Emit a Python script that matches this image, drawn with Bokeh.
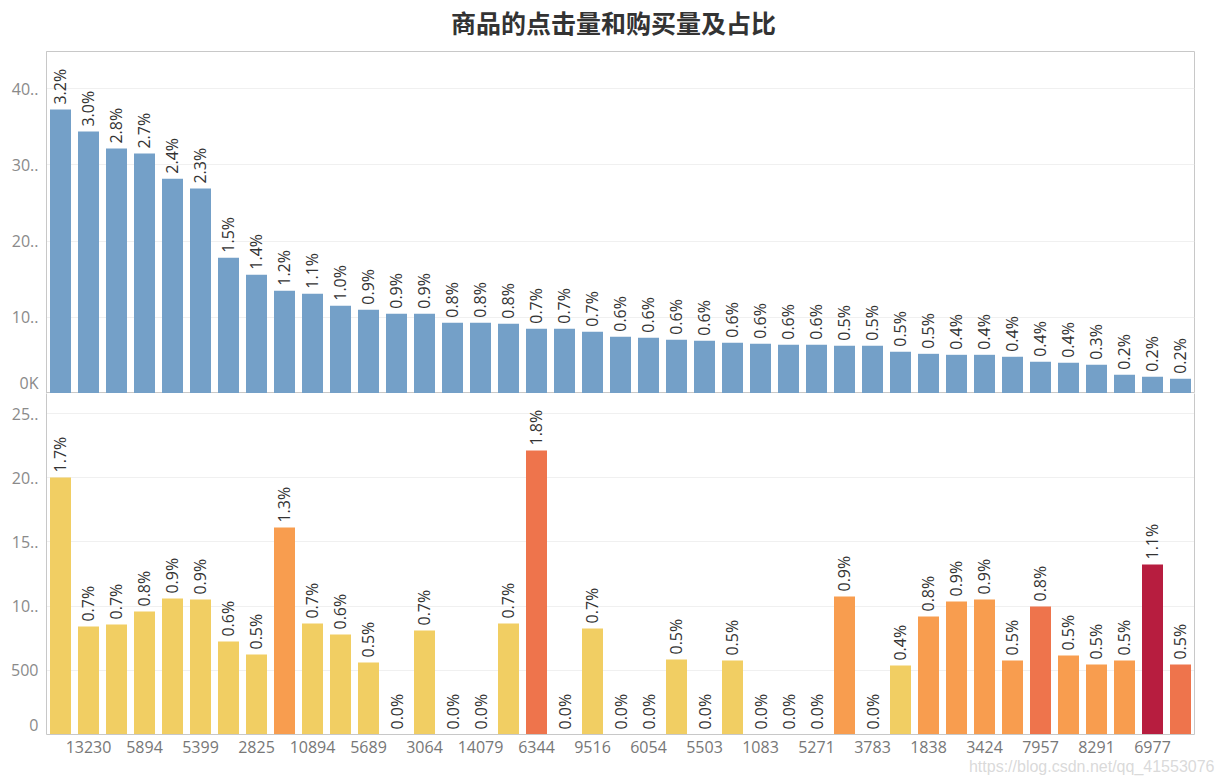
import numpy as np
from bokeh.plotting import figure
from bokeh.models import (ColumnDataSource, Range1d, FixedTicker, LabelSet, Title,
                          LinearAxis, Div)
from bokeh.layouts import column
from bokeh.core.properties import value
from bokeh.embed import file_html
from bokeh.resources import INLINE

# ---------------- data ----------------
title_text = "商品的点击量和购买量及占比"

# item ids shown on the x axis (every second item is labelled)
x_labels = ["13230", "5894", "5399", "2825", "10894", "5689", "3064", "14079",
            "6344", "9516", "6054", "5503", "1083", "5271", "3783", "1838",
            "3424", "7957", "8291", "6977"]

# clicks per item (top panel)
clicks = [37280, 34390, 32160, 31500, 28210, 26900, 17830, 15600, 13490, 13100,
          11520, 11000, 10470, 10470, 9290, 9290, 9160, 8500, 8500, 8110,
          7450, 7320, 7050, 6920, 6660, 6530, 6400, 6400, 6270, 6270,
          5480, 5210, 5080, 5080, 4820, 4160, 4030, 3770, 2450, 2190, 1930]
click_pct = ["3.2%", "3.0%", "2.8%", "2.7%", "2.4%", "2.3%", "1.5%", "1.4%", "1.2%", "1.1%",
             "1.0%", "0.9%", "0.9%", "0.9%", "0.8%", "0.8%", "0.8%", "0.7%", "0.7%", "0.7%",
             "0.6%", "0.6%", "0.6%", "0.6%", "0.6%", "0.6%", "0.6%", "0.6%", "0.5%", "0.5%",
             "0.5%", "0.5%", "0.4%", "0.4%", "0.4%", "0.4%", "0.4%", "0.3%", "0.2%", "0.2%", "0.2%"]

# purchases per item (bottom panel)
buys = [2002, 841, 857, 958, 1059, 1051, 724, 623, 1612, 864,
        779, 561, 0, 810, 0, 0, 864, 2212, 0, 826,
        0, 0, 584, 0, 576, 0, 0, 0, 1075, 0,
        537, 919, 1036, 1051, 576, 997, 615, 545, 576, 1324, 545]
buy_pct = ["1.7%", "0.7%", "0.7%", "0.8%", "0.9%", "0.9%", "0.6%", "0.5%", "1.3%", "0.7%",
           "0.6%", "0.5%", "0.0%", "0.7%", "0.0%", "0.0%", "0.7%", "1.8%", "0.0%", "0.7%",
           "0.0%", "0.0%", "0.5%", "0.0%", "0.5%", "0.0%", "0.0%", "0.0%", "0.9%", "0.0%",
           "0.4%", "0.8%", "0.9%", "0.9%", "0.5%", "0.8%", "0.5%", "0.5%", "0.5%", "1.1%", "0.5%"]

top_ticks = [10000, 20000, 30000, 40000]
top_tick_text = ["10..", "20..", "30..", "40.."]
bot_ticks = [500, 1000, 1500, 2000, 2500]
bot_tick_text = ["500", "10..", "15..", "20..", "25.."]

watermark = "https://blog.csdn.net/qq_41553076"

# ---------------- styling ----------------
W = 1225
LEFT, RIGHT = 46, 31
TITLE_H = 44
TOP_H, TOP_BORDER = 393 - TITLE_H, 51 - TITLE_H
BOT_H, BOT_BORDER = 383, 42
BLUE = "#74A0C8"
palette = ["#F1CE63", "#F89D4F", "#EE744C", "#B71D3F"]
ratio_bins = [0.11, 0.2375, 0.4]
AXIS_C = "#c8c8c8"
GRID_C = "#f0f0f0"
LABEL_FONT = "Open Sans"
FS = "16px"

n = len(clicks)
idx = np.arange(n)
conv = np.array(buys) / np.array(clicks)
bar_colors = [palette[k] for k in np.digitize(conv, ratio_bins)]

src = ColumnDataSource(dict(x=idx, clicks=clicks, click_pct=click_pct,
                            buys=buys, buy_pct=buy_pct, color=bar_colors))

top_max = 44900
bot_max = 2656


def style_y(p, ticks, texts, zero_text, frame_h, ymax):
    # the "0" label is lifted slightly inside the pane (as in the original)
    zero_pos = 10 * ymax / frame_h
    ax = p.yaxis[0]
    ax.ticker = FixedTicker(ticks=[zero_pos] + ticks)
    ax.major_label_overrides = {zero_pos: zero_text, **{t: s for t, s in zip(ticks, texts)}}
    ax.axis_line_color = AXIS_C
    ax.major_tick_line_color = None
    ax.minor_tick_line_color = None
    ax.major_tick_out = 0
    ax.major_label_standoff = 8
    ax.major_label_text_font = LABEL_FONT
    ax.major_label_text_font_size = FS
    ax.major_label_text_color = "#8a8a8a"
    p.ygrid.ticker = FixedTicker(ticks=ticks)
    p.ygrid.grid_line_color = GRID_C
    p.xgrid.grid_line_color = None


# ---------------- title ----------------
title_div = Div(
    text=('<div style="width:%dpx;text-align:center;font-family:\'Noto Sans CJK SC\';'
          'font-weight:bold;font-size:25px;line-height:%dpx;color:#333333;'
          'padding-left:2px;">%s</div>') % (W, TITLE_H, title_text),
    width=W, height=TITLE_H, margin=0)

# ---------------- top: clicks ----------------
p1 = figure(width=W, height=TOP_H, x_range=Range1d(-0.5, n - 0.5), y_range=Range1d(0, top_max),
            output_backend="svg", toolbar_location=None, x_axis_location=None,
            min_border_left=LEFT, min_border_right=RIGHT, min_border_top=TOP_BORDER,
            min_border_bottom=0)
p1.outline_line_color = AXIS_C
p1.vbar(x="x", top="clicks", width=0.75, source=src, color=BLUE, line_color=None)
p1.add_layout(LabelSet(x="x", y="clicks", text="click_pct", source=src, angle=np.pi / 2,
                       text_align="left", text_baseline="middle", y_offset=5,
                       text_font=value(LABEL_FONT), text_font_size=FS, text_color="#333333"))
style_y(p1, top_ticks, top_tick_text, "0K", TOP_H - TOP_BORDER, top_max)

# ---------------- bottom: purchases ----------------
p2 = figure(width=W, height=BOT_H, x_range=p1.x_range, y_range=Range1d(0, bot_max),
            output_backend="svg", toolbar_location=None,
            min_border_left=LEFT, min_border_right=RIGHT, min_border_top=0,
            min_border_bottom=BOT_BORDER)
p2.outline_line_color = None
p2.vbar(x="x", top="buys", width=0.75, source=src, color="color", line_color=None)
p2.add_layout(LabelSet(x="x", y="buys", text="buy_pct", source=src, angle=np.pi / 2,
                       text_align="left", text_baseline="middle", y_offset=5,
                       text_font=value(LABEL_FONT), text_font_size=FS, text_color="#333333"))
style_y(p2, bot_ticks, bot_tick_text, "0", BOT_H - BOT_BORDER, bot_max)

xa = p2.xaxis[0]
lab_pos = [int(i) for i in idx[1::2]]
xa.ticker = FixedTicker(ticks=lab_pos)
xa.major_label_overrides = {i: s for i, s in zip(lab_pos, x_labels)}
xa.axis_line_color = AXIS_C
xa.major_tick_line_color = None
xa.minor_tick_line_color = None
xa.major_tick_out = 0
xa.major_label_standoff = 6
xa.major_label_text_font = LABEL_FONT
xa.major_label_text_font_size = FS
xa.major_label_text_color = "#777777"

right_ax = LinearAxis(ticker=FixedTicker(ticks=[]), axis_line_color=AXIS_C,
                      major_tick_line_color=None, minor_tick_line_color=None,
                      major_label_text_font_size="0px")
p2.add_layout(right_ax, "right")

wm = Title(text=watermark, align="right", offset=-20, standoff=0,
           text_font="Liberation Sans", text_font_size="16px", text_font_style="normal",
           text_line_height=0.3, text_color="#d0d0d0", text_alpha=0.8)
p2.add_layout(wm, "below")

layout = column(title_div, p1, p2, spacing=0)
open("out.html", "w").write(file_html(layout, INLINE))
